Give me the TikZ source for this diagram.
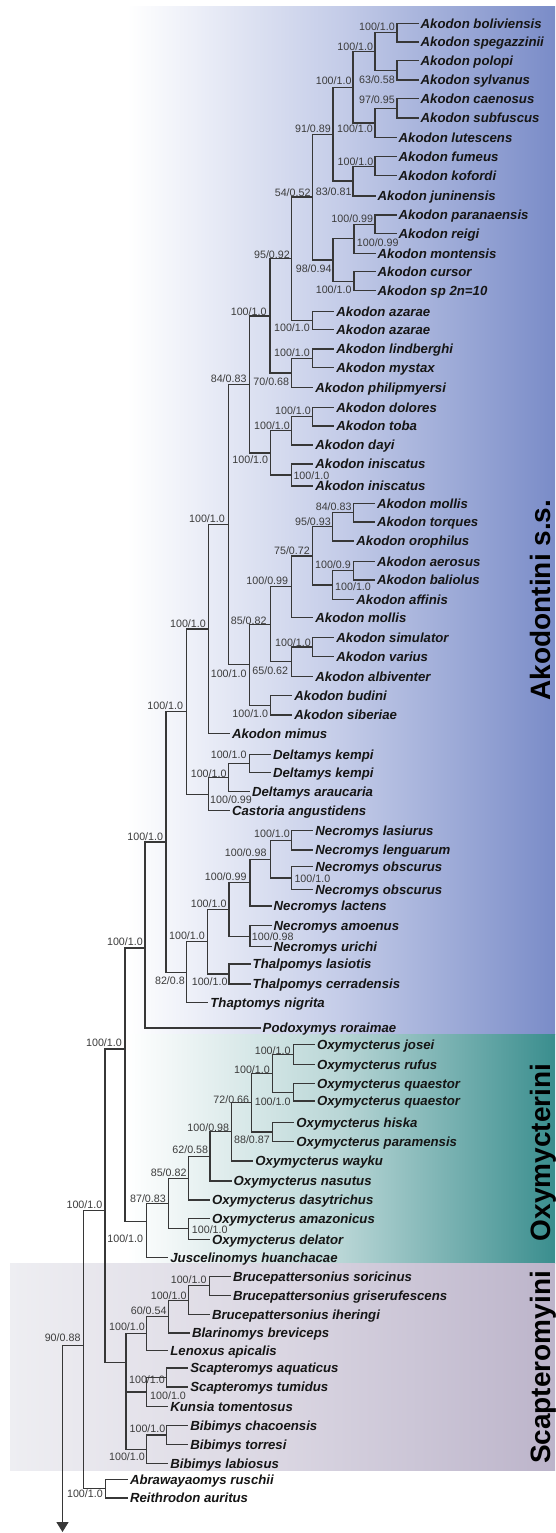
\documentclass[tikz,border=0pt]{standalone}
\usepackage{fontspec}
\setmainfont{Liberation Sans}
\usetikzlibrary{arrows.meta}
\definecolor{lc}{RGB}{55,55,55}
\definecolor{txc}{RGB}{22,22,22}
\definecolor{lbc}{RGB}{60,60,60}
\definecolor{akR}{RGB}{122,140,200}
\definecolor{akM}{RGB}{196,204,232}
\definecolor{oxR}{RGB}{58,142,142}
\definecolor{oxM}{RGB}{185,214,214}
\definecolor{scL}{RGB}{238,238,242}
\definecolor{scM}{RGB}{218,214,226}
\definecolor{scR}{RGB}{188,180,202}
\newcommand\leaffont{\fontsize{13.2}{14}\selectfont\bfseries\itshape}
\newcommand\labfont{\fontsize{10.7}{12}\selectfont}
\newcommand\cladefont{\fontsize{28}{30}\selectfont\bfseries}
\newcommand\nleaf[4]{\node[leaf] (#1) at (#2,#3) {#4};}
\newcommand\nlabe[4]{\node[lbe] (#1) at (#2,#3) {#4};}
\newcommand\nlabw[4]{\node[lbw] (#1) at (#2,#3) {#4};}
\newcommand\tleaf[2]{\draw[br] (#1.west) -| (#2);}
\newcommand\tedge[2]{\draw[br] (#1) -| (#2);}
\tikzset{
  br/.style={draw=lc, line width=1.3pt, line cap=rect},
  leaf/.style={anchor=west, inner xsep=2.5pt, inner ysep=0pt, text height=9.45pt, text depth=0pt, font=\leaffont, text=txc},
  lbe/.style={anchor=east, inner sep=0pt, text height=7.66pt, text depth=0pt, font=\labfont, text=lbc},
  lbw/.style={lbe, anchor=west},
  clade/.style={anchor=base, rotate=90, font=\cladefont, inner sep=0pt, text=black}
}
\begin{document}
\begin{tikzpicture}[x=1pt,y=-1pt]
\useasboundingbox (0,0) rectangle (555,1533);
\fill[white] (0,0) rectangle (555,1533);
% background bands
\fill[left color=white, right color=akR, middle color=akM] (127,7) rectangle (555,1034);
\fill[left color=white, right color=oxR, middle color=oxM] (127,1034) rectangle (555,1263);
\fill[left color=scL, right color=scR, middle color=scM] (10,1263) rectangle (555,1470);
% clade names
\node[clade] (cAk) at (550,600) {Akodontini s.s.};
\node[clade] (cOx) at (550,1152.5) {Oxymycterini};
\node[clade] (cSc) at (550,1367.5) {Scapteromyini};
% leaves
\nleaf{L00}{418}{23.3}{Akodon boliviensis}
\nleaf{L01}{418}{42}{Akodon spegazzinii}
\nleaf{L02}{418}{60.7}{Akodon polopi}
\nleaf{L03}{418}{80}{Akodon sylvanus}
\nleaf{L04}{418}{98.7}{Akodon caenosus}
\nleaf{L05}{418}{118}{Akodon subfuscus}
\nleaf{L06}{396}{137.7}{Akodon lutescens}
\nleaf{L07}{396}{156.7}{Akodon fumeus}
\nleaf{L08}{396}{175.7}{Akodon kofordi}
\nleaf{L09}{375}{196}{Akodon juninensis}
\nleaf{L10}{396}{215}{Akodon paranaensis}
\nleaf{L11}{396}{233.3}{Akodon reigi}
\nleaf{L12}{375}{253.3}{Akodon montensis}
\nleaf{L13}{375}{271.7}{Akodon cursor}
\nleaf{L14}{375}{290.7}{Akodon sp 2n=10}
\nleaf{L15}{333.7}{311.7}{Akodon azarae}
\nleaf{L16}{333.7}{329.3}{Akodon azarae}
\nleaf{L17}{333.7}{349}{Akodon lindberghi}
\nleaf{L18}{333.7}{367.7}{Akodon mystax}
\nleaf{L19}{312.7}{387.7}{Akodon philipmyersi}
\nleaf{L20}{333.7}{407.3}{Akodon dolores}
\nleaf{L21}{333.7}{426}{Akodon toba}
\nleaf{L22}{312.7}{445}{Akodon dayi}
\nleaf{L23}{312.7}{464}{Akodon iniscatus}
\nleaf{L24}{312.7}{486}{Akodon iniscatus}
\nleaf{L25}{374.3}{503.3}{Akodon mollis}
\nleaf{L26}{374.3}{522}{Akodon torques}
\nleaf{L27}{353.7}{541}{Akodon orophilus}
\nleaf{L28}{374.3}{561.7}{Akodon aerosus}
\nleaf{L29}{374.3}{580}{Akodon baliolus}
\nleaf{L30}{353.7}{599.3}{Akodon affinis}
\nleaf{L31}{312.7}{617.3}{Akodon mollis}
\nleaf{L32}{333.7}{637.3}{Akodon simulator}
\nleaf{L33}{333.7}{656.7}{Akodon varius}
\nleaf{L34}{312.7}{676.7}{Akodon albiventer}
\nleaf{L35}{291.7}{695.7}{Akodon budini}
\nleaf{L36}{291.7}{715}{Akodon siberiae}
\nleaf{L37}{229.3}{733.3}{Akodon mimus}
\nleaf{L38}{270.3}{754.3}{Deltamys kempi}
\nleaf{L39}{270.3}{772.7}{Deltamys kempi}
\nleaf{L40}{249.3}{791.7}{Deltamys araucaria}
\nleaf{L41}{229.3}{810.7}{Castoria angustidens}
\nleaf{L42}{312.7}{830.7}{Necromys lasiurus}
\nleaf{L43}{312.7}{850}{Necromys lenguarum}
\nleaf{L44}{312.7}{866.7}{Necromys obscurus}
\nleaf{L45}{312.7}{889.3}{Necromys obscurus}
\nleaf{L46}{271}{906}{Necromys lactens}
\nleaf{L47}{271}{925.7}{Necromys amoenus}
\nleaf{L48}{271}{946.7}{Necromys urichi}
\nleaf{L49}{250}{964}{Thalpomys lasiotis}
\nleaf{L50}{250}{984}{Thalpomys cerradensis}
\nleaf{L51}{207.7}{1002.7}{Thaptomys nigrita}
\nleaf{L52}{260}{1028}{Podoxymys roraimae}
\nleaf{L53}{314.3}{1044.3}{Oxymycterus josei}
\nleaf{L54}{314.3}{1064.3}{Oxymycterus rufus}
\nleaf{L55}{314.3}{1083.3}{Oxymycterus quaestor}
\nleaf{L56}{314.3}{1101}{Oxymycterus quaestor}
\nleaf{L57}{293.7}{1122.3}{Oxymycterus hiska}
\nleaf{L58}{293.7}{1141.7}{Oxymycterus paramensis}
\nleaf{L59}{252.7}{1161}{Oxymycterus wayku}
\nleaf{L60}{231}{1181}{Oxymycterus nasutus}
\nleaf{L61}{209.3}{1200}{Oxymycterus dasytrichus}
\nleaf{L62}{209.3}{1218.3}{Oxymycterus amazonicus}
\nleaf{L63}{209.3}{1239.3}{Oxymycterus delator}
\nleaf{L64}{167.7}{1257.3}{Juscelinomys huanchacae}
\nleaf{L65}{230.3}{1276.3}{Brucepattersonius soricinus}
\nleaf{L66}{230.3}{1295.3}{Brucepattersonius griserufescens}
\nleaf{L67}{209.3}{1314.7}{Brucepattersonius iheringi}
\nleaf{L68}{189.3}{1333}{Blarinomys breviceps}
\nleaf{L69}{167.7}{1350.3}{Lenoxus apicalis}
\nleaf{L70}{187.7}{1368}{Scapteromys aquaticus}
\nleaf{L71}{187.7}{1387}{Scapteromys tumidus}
\nleaf{L72}{167.7}{1406.3}{Kunsia tomentosus}
\nleaf{L73}{187.7}{1425.3}{Bibimys chacoensis}
\nleaf{L74}{187.7}{1444.7}{Bibimys torresi}
\nleaf{L75}{167.7}{1463.7}{Bibimys labiosus}
\nleaf{L76}{127.3}{1479.7}{Abrawayaomys ruschii}
\nleaf{L77}{127.3}{1498}{Reithrodon auritus}
% internal nodes
\coordinate (bs) at (397,32.7);
\coordinate (ps) at (397,70.3);
\coordinate (bsps) at (375,51.5);
\coordinate (cs) at (397,108.3);
\coordinate (csl) at (375,123);
\coordinate (A1) at (353,87.3);
\coordinate (fk) at (375,166.2);
\coordinate (fkj) at (353,181.1);
\coordinate (A2) at (333,134.2);
\coordinate (pr) at (375,224.2);
\coordinate (prm) at (354,238.8);
\coordinate (c2) at (354,281.2);
\coordinate (A4) at (333,260);
\coordinate (A3) at (312.7,197.1);
\coordinate (az) at (312.7,320.5);
\coordinate (A5) at (291.7,258.8);
\coordinate (lm) at (312.7,358.4);
\coordinate (lmp) at (291.7,373);
\coordinate (A6) at (270,315.9);
\coordinate (dt) at (312.7,416.7);
\coordinate (dtd) at (291.7,430.8);
\coordinate (ii) at (291.7,475);
\coordinate (dtdi) at (270.7,452.9);
\coordinate (A7) at (249.3,384.4);
\coordinate (mt) at (353.3,512.7);
\coordinate (mto) at (332.7,526.8);
\coordinate (ab) at (353.3,570.8);
\coordinate (aba) at (332.7,585);
\coordinate (B1) at (312.7,555.9);
\coordinate (B2) at (291.7,586.6);
\coordinate (sv) at (312.7,647);
\coordinate (sva) at (291.7,661.8);
\coordinate (B3) at (270.7,624.2);
\coordinate (bs2) at (270.7,705.4);
\coordinate (B4) at (249.3,664.8);
\coordinate (B5) at (228.3,524.6);
\coordinate (B6) at (208.3,629);
\coordinate (dk) at (249.3,763.5);
\coordinate (dka) at (228.3,777.6);
\coordinate (dkac) at (208.3,794.2);
\coordinate (B7) at (186.7,711.6);
\coordinate (ll) at (291.7,840.4);
\coordinate (oo) at (291.7,878);
\coordinate (lloo) at (270.7,859.2);
\coordinate (C1) at (250,882.6);
\coordinate (au) at (250,936.2);
\coordinate (C2) at (229,909.4);
\coordinate (tc) at (229,974);
\coordinate (C3) at (207.3,941.7);
\coordinate (C4) at (186.7,972.2);
\coordinate (C5) at (166,841.9);
\coordinate (C6) at (145,948);
\coordinate (C7) at (125,1049);
\coordinate (jr) at (293.3,1054.3);
\coordinate (qq) at (293.3,1092.2);
\coordinate (jrqq) at (272.7,1073.2);
\coordinate (hp) at (272.7,1132);
\coordinate (O1) at (251.7,1102.6);
\coordinate (O2) at (231.7,1131.8);
\coordinate (O3) at (210,1156.4);
\coordinate (O4) at (188.3,1178.2);
\coordinate (ad) at (188.3,1228.8);
\coordinate (O5) at (168.3,1203.5);
\coordinate (O6) at (146.7,1221.7);
\coordinate (bsg) at (209.3,1285.8);
\coordinate (bsgi) at (188.3,1300.2);
\coordinate (D1) at (168.3,1316.6);
\coordinate (D2) at (146.7,1333.5);
\coordinate (st) at (166.7,1377.5);
\coordinate (stk) at (146.7,1391.9);
\coordinate (bt) at (166.7,1435);
\coordinate (btl) at (146.7,1449.4);
\coordinate (D3) at (126,1362.3);
\coordinate (C8) at (105,1210.7);
\coordinate (AR) at (105.5,1488.8);
\coordinate (E1) at (83.8,1345.7);
\coordinate (root) at (62.5,1345.7);
\coordinate (tip) at (62.5,1532);
% leaf branches
\tleaf{L00}{bs}\tleaf{L01}{bs}\tleaf{L02}{ps}\tleaf{L03}{ps}
\tleaf{L04}{cs}\tleaf{L05}{cs}\tleaf{L06}{csl}
\tleaf{L07}{fk}\tleaf{L08}{fk}\tleaf{L09}{fkj}
\tleaf{L10}{pr}\tleaf{L11}{pr}\tleaf{L12}{prm}
\tleaf{L13}{c2}\tleaf{L14}{c2}
\tleaf{L15}{az}\tleaf{L16}{az}
\tleaf{L17}{lm}\tleaf{L18}{lm}\tleaf{L19}{lmp}
\tleaf{L20}{dt}\tleaf{L21}{dt}\tleaf{L22}{dtd}
\tleaf{L23}{ii}\tleaf{L24}{ii}
\tleaf{L25}{mt}\tleaf{L26}{mt}\tleaf{L27}{mto}
\tleaf{L28}{ab}\tleaf{L29}{ab}\tleaf{L30}{aba}
\tleaf{L31}{B2}
\tleaf{L32}{sv}\tleaf{L33}{sv}\tleaf{L34}{sva}
\tleaf{L35}{bs2}\tleaf{L36}{bs2}
\tleaf{L37}{B6}
\tleaf{L38}{dk}\tleaf{L39}{dk}\tleaf{L40}{dka}\tleaf{L41}{dkac}
\tleaf{L42}{ll}\tleaf{L43}{ll}\tleaf{L44}{oo}\tleaf{L45}{oo}
\tleaf{L46}{C1}\tleaf{L47}{au}\tleaf{L48}{au}
\tleaf{L49}{tc}\tleaf{L50}{tc}\tleaf{L51}{C4}
\tleaf{L52}{C6}
\tleaf{L53}{jr}\tleaf{L54}{jr}\tleaf{L55}{qq}\tleaf{L56}{qq}
\tleaf{L57}{hp}\tleaf{L58}{hp}\tleaf{L59}{O2}\tleaf{L60}{O3}
\tleaf{L61}{O4}\tleaf{L62}{ad}\tleaf{L63}{ad}\tleaf{L64}{O6}
\tleaf{L65}{bsg}\tleaf{L66}{bsg}\tleaf{L67}{bsgi}\tleaf{L68}{D1}
\tleaf{L69}{D2}\tleaf{L70}{st}\tleaf{L71}{st}\tleaf{L72}{stk}
\tleaf{L73}{bt}\tleaf{L74}{bt}\tleaf{L75}{btl}
\tleaf{L76}{AR}\tleaf{L77}{AR}
% internal branches
\tedge{bs}{bsps}\tedge{ps}{bsps}\tedge{cs}{csl}
\tedge{bsps}{A1}\tedge{csl}{A1}\tedge{fk}{fkj}
\tedge{A1}{A2}\tedge{fkj}{A2}
\tedge{pr}{prm}\tedge{prm}{A4}\tedge{c2}{A4}
\tedge{A2}{A3}\tedge{A4}{A3}
\tedge{A3}{A5}\tedge{az}{A5}
\tedge{lm}{lmp}\tedge{A5}{A6}\tedge{lmp}{A6}
\tedge{dt}{dtd}\tedge{dtd}{dtdi}\tedge{ii}{dtdi}
\tedge{A6}{A7}\tedge{dtdi}{A7}
\tedge{mt}{mto}\tedge{ab}{aba}\tedge{mto}{B1}\tedge{aba}{B1}
\tedge{B1}{B2}\tedge{sv}{sva}\tedge{B2}{B3}\tedge{sva}{B3}
\tedge{B3}{B4}\tedge{bs2}{B4}
\tedge{A7}{B5}\tedge{B4}{B5}\tedge{B5}{B6}
\tedge{dk}{dka}\tedge{dka}{dkac}
\tedge{B6}{B7}\tedge{dkac}{B7}
\tedge{ll}{lloo}\tedge{oo}{lloo}\tedge{lloo}{C1}
\tedge{C1}{C2}\tedge{au}{C2}\tedge{C2}{C3}\tedge{tc}{C3}
\tedge{C3}{C4}\tedge{B7}{C5}\tedge{C4}{C5}\tedge{C5}{C6}
\tedge{C6}{C7}\tedge{O6}{C7}
\tedge{jr}{jrqq}\tedge{qq}{jrqq}\tedge{jrqq}{O1}\tedge{hp}{O1}
\tedge{O1}{O2}\tedge{O2}{O3}\tedge{O3}{O4}
\tedge{O4}{O5}\tedge{ad}{O5}\tedge{O5}{O6}
\tedge{bsg}{bsgi}\tedge{bsgi}{D1}\tedge{D1}{D2}
\tedge{st}{stk}\tedge{bt}{btl}
\tedge{D2}{D3}\tedge{stk}{D3}\tedge{btl}{D3}
\tedge{C7}{C8}\tedge{D3}{C8}
\tedge{C8}{E1}\tedge{AR}{E1}
\draw[br] (E1) -- (root);
\draw[br, line cap=butt, -{Triangle[width=12pt,length=10pt]}] (root) -- (tip);
% support labels
\nlabe{l01}{395}{26.7}{100/1.0}
\nlabe{l02}{395}{80}{63/0.58}
\nlabe{l03}{373.3}{46.7}{100/1.0}
\nlabe{l04}{395}{100}{97/0.95}
\nlabe{l05}{373}{128.3}{100/1.0}
\nlabe{l06}{351.7}{81}{100/1.0}
\nlabe{l07}{373.5}{162}{100/1.0}
\nlabe{l08}{351.7}{191.7}{83/0.81}
\nlabe{l09}{331}{128.3}{91/0.89}
\nlabe{l10}{373.3}{218.3}{100/0.99}
\nlabw{l11}{356.7}{242.7}{100/0.99}
\nlabe{l12}{351.7}{290}{100/1.0}
\nlabe{l13}{331.7}{268.3}{98/0.94}
\nlabe{l14}{310.7}{192.5}{54/0.52}
\nlabe{l15}{290}{255}{95/0.92}
\nlabe{l16}{310}{328}{100/1.0}
\nlabe{l17}{310}{353}{100/1.0}
\nlabe{l18}{289.3}{381.7}{70/0.68}
\nlabe{l19}{266.7}{311.7}{100/1.0}
\nlabe{l20}{311}{410.5}{100/1.0}
\nlabe{l21}{290}{426}{100/1.0}
\nlabw{l22}{293.3}{476}{100/1.0}
\nlabe{l23}{268.3}{460}{100/1.0}
\nlabe{l24}{246.7}{379}{84/0.83}
\nlabe{l25}{351.7}{506.7}{84/0.83}
\nlabe{l26}{331}{521.7}{95/0.93}
\nlabe{l27}{351}{565}{100/0.9}
\nlabw{l28}{335}{586.7}{100/1.0}
\nlabe{l29}{310}{550.7}{75/0.72}
\nlabe{l30}{288.3}{581}{100/0.99}
\nlabe{l31}{311}{642.7}{100/1.0}
\nlabe{l32}{288.3}{671}{65/0.62}
\nlabe{l33}{266.7}{620.7}{85/0.82}
\nlabe{l34}{268.3}{713.3}{100/1.0}
\nlabe{l35}{246.7}{674}{100/1.0}
\nlabe{l36}{225}{518.3}{100/1.0}
\nlabe{l37}{206}{624}{100/1.0}
\nlabe{l38}{246.7}{755}{100/1.0}
\nlabe{l39}{226.7}{773.3}{100/1.0}
\nlabw{l40}{210}{800}{100/0.99}
\nlabe{l41}{183.3}{706}{100/1.0}
\nlabe{l42}{290}{833.3}{100/1.0}
\nlabw{l43}{294.3}{879}{100/1.0}
\nlabe{l44}{266.7}{852.7}{100/0.98}
\nlabe{l45}{246.7}{876.7}{100/0.99}
\nlabw{l46}{251.7}{936.7}{100/0.98}
\nlabe{l47}{226.7}{903.3}{100/1.0}
\nlabe{l48}{227.7}{981.7}{100/1.0}
\nlabe{l49}{205}{936}{100/1.0}
\nlabe{l50}{185}{980.7}{82/0.8}
\nlabe{l51}{163.3}{836.7}{100/1.0}
\nlabe{l52}{143}{941.7}{100/1.0}
\nlabe{l53}{122}{1042.5}{100/1.0}
\nlabe{l54}{290.7}{1050.7}{100/1.0}
\nlabe{l55}{290.7}{1101.7}{100/1.0}
\nlabe{l56}{270}{1069.3}{100/1.0}
\nlabe{l57}{270}{1139.3}{88/0.87}
\nlabe{l58}{249.3}{1099.3}{72/0.66}
\nlabe{l59}{229.3}{1127.3}{100/0.98}
\nlabe{l60}{208.3}{1150}{62/0.58}
\nlabe{l61}{186.7}{1172.7}{85/0.82}
\nlabw{l62}{191.7}{1229.3}{100/1.0}
\nlabe{l63}{166}{1198.3}{87/0.83}
\nlabe{l64}{143.3}{1238.3}{100/1.0}
\nlabe{l65}{102.5}{1204.5}{100/1.0}
\nlabe{l66}{206.7}{1279.7}{100/1.0}
\nlabe{l67}{186.7}{1295.3}{100/1.0}
\nlabe{l68}{166.7}{1310.7}{60/0.54}
\nlabe{l69}{145}{1326.3}{100/1.0}
\nlabe{l70}{165}{1380}{100/1.0}
\nlabw{l71}{150}{1395.3}{100/1.0}
\nlabe{l72}{165.5}{1429}{100/1.0}
\nlabe{l73}{145}{1456.3}{100/1.0}
\nlabe{l74}{103}{1494}{100/1.0}
\nlabe{l75}{80.7}{1338}{90/0.88}
\end{tikzpicture}
\end{document}
